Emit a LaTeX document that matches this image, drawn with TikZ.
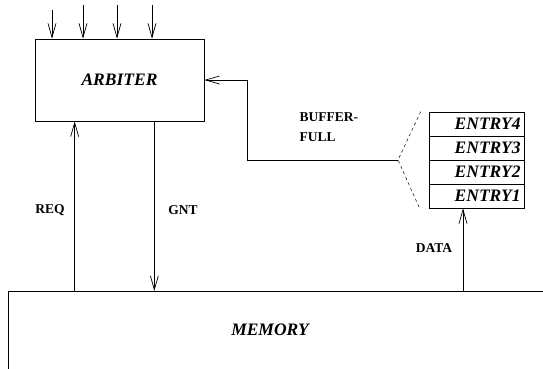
\documentclass[tikz,border=0pt]{standalone}
\usepackage{fontspec}
\setmainfont{Liberation Serif}
\usetikzlibrary{arrows.meta,positioning}

\begin{document}
\begin{tikzpicture}[x=1pt,y=-1pt,line width=0.7pt,
  sig/.style={-{Straight Barb[length=14pt,width=8pt]}},
  block/.style={draw,inner sep=0pt},
  bigtxt/.style={font=\fontsize{17.5}{20}\selectfont\bfseries\itshape},
  smalltxt/.style={font=\fontsize{13.5}{20}\selectfont\bfseries},
  entrybox/.style={block,bigtxt,minimum width=95pt,minimum height=24pt,text width=88pt,align=right}]
  \useasboundingbox (0,0) rectangle (543,368);
  \clip (0,0) rectangle (543,368);
  \node[block,bigtxt,minimum width=169pt,minimum height=82pt] (arbiter) at (119.5,80) {\raisebox{-6pt}{ARBITER}};
  \foreach \i in {1,...,4}{
    \node[entrybox] (entry\i) at (476.5,{196-24*(\i-1)}) {ENTRY\i};
  }
  \node[block,anchor=north west,minimum width=600pt,minimum height=120pt] (memory) at (8,291) {};
  \node[bigtxt] (memtext) at (270,330) {MEMORY};
  % inputs of the arbiter
  \foreach \x/\top in {52/10,83/5,117/5,152/5}{
    \coordinate (in\x) at (\x,\top);
    \draw[sig] (in\x) -- (in\x |- arbiter.north);
  }
  % req / gnt
  \coordinate (reqpt) at ([xshift=40pt]arbiter.south west);
  \coordinate (gntpt) at ([xshift=-50pt]arbiter.south east);
  \draw[sig] (reqpt |- memory.north) -- (reqpt);
  \draw[sig] (gntpt) -- (gntpt |- memory.north);
  \node[smalltxt] (req) at (50,210) {REQ};
  \node[smalltxt] (gnt) at (183,210) {GNT};
  % data into the buffer
  \coordinate (datapt) at ([xshift=-13.5pt]entry1.south);
  \draw[sig] (datapt |- memory.north) -- (datapt);
  \node[smalltxt] (data) at (434,248) {DATA};
  % buffer full back to the arbiter
  \coordinate (fork) at (398,160);
  \draw[sig] (fork) -| ([xshift=43pt]arbiter.east) -- (arbiter.east);
  \draw[dash pattern=on 3pt off 3pt,line width=0.5pt] ([xshift=-8pt]entry4.north west) -- (fork) -- ([xshift=-9pt]entry1.south west);
  \node[smalltxt,align=left,anchor=west] (full) at (296,127) {BUFFER-\\FULL};
\end{tikzpicture}
\end{document}
